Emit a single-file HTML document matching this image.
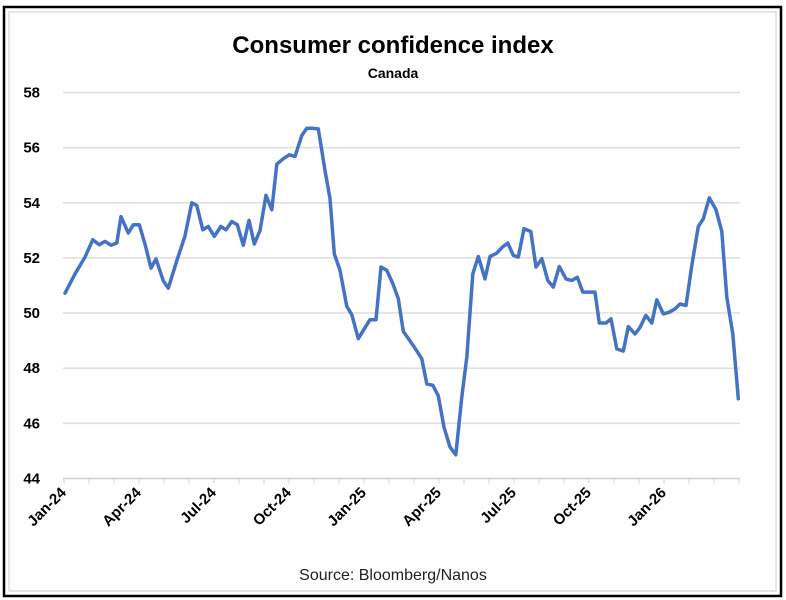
<!DOCTYPE html>
<html><head><meta charset="utf-8"><style>
body{margin:0;background:#fff;}
svg{display:block;font-family:"Liberation Sans",sans-serif;}
</style></head><body>
<svg width="786" height="600">
<rect x="4" y="7" width="777" height="589" fill="#fff" stroke="#000" stroke-width="2.5"/>
<rect x="9" y="12" width="767" height="579" fill="none" stroke="#ccc" stroke-width="1"/>
<text x="393" y="53" text-anchor="middle" font-size="24" font-weight="bold">Consumer confidence index</text>
<text x="393" y="78" text-anchor="middle" font-size="14" font-weight="bold">Canada</text>
<text x="393" y="580" text-anchor="middle" font-size="16" fill="#222">Source: Bloomberg/Nanos</text>
<g id="grid"></g><g id="xaxis"></g><g id="yaxis"></g><g id="series"></g>
</svg>
<script>
const months = [0.04,0.44,0.84,1.15,1.41,1.64,1.88,2.11,2.28,2.57,2.77,3.01,3.24,3.48,3.68,3.97,4.17,4.51,4.84,5.11,5.31,5.55,5.77,6.01,6.27,6.48,6.71,6.93,7.17,7.4,7.61,7.84,8.08,8.31,8.51,8.77,9.01,9.24,9.51,9.71,9.91,10.17,10.44,10.64,10.81,11.04,11.31,11.51,11.77,12.01,12.24,12.48,12.68,12.91,13.15,13.37,13.57,13.81,14.08,14.31,14.51,14.75,14.97,15.2,15.44,15.67,15.91,16.11,16.35,16.57,16.84,17.04,17.31,17.53,17.75,17.97,18.17,18.4,18.67,18.88,19.11,19.35,19.57,19.81,20.08,20.31,20.53,20.75,21.01,21.24,21.41,21.68,21.88,22.11,22.37,22.57,22.84,23.04,23.27,23.51,23.71,23.97,24.21,24.44,24.64,24.88,25.11,25.37,25.57,25.81,26.08,26.31,26.51,26.75,26.97];
const values = [50.72,51.42,52.03,52.66,52.48,52.6,52.46,52.54,53.5,52.9,53.2,53.2,52.5,51.63,51.96,51.17,50.9,51.9,52.8,54.0,53.9,53.02,53.14,52.78,53.14,53.02,53.32,53.2,52.46,53.36,52.5,52.99,54.27,53.75,55.4,55.6,55.74,55.68,56.44,56.7,56.7,56.68,55.17,54.15,52.15,51.55,50.24,49.94,49.07,49.43,49.76,49.76,51.67,51.55,51.07,50.52,49.33,49.03,48.67,48.34,47.43,47.38,47.0,45.86,45.14,44.86,46.95,48.4,51.42,52.05,51.24,52.05,52.17,52.39,52.54,52.09,52.03,53.06,52.96,51.67,51.97,51.18,50.94,51.69,51.24,51.18,51.3,50.76,50.76,50.76,49.64,49.64,49.79,48.7,48.62,49.51,49.24,49.48,49.91,49.64,50.48,49.97,50.03,50.15,50.33,50.27,51.73,53.14,53.42,54.18,53.75,52.96,50.58,49.24,46.89];
const yTicks = [44,46,48,50,52,54,56,58];
const xLabels = ["Jan-24","Apr-24","Jul-24","Oct-24","Jan-25","Apr-25","Jul-25","Oct-25","Jan-26"];
const xLabelMonths = [0,3,6,9,12,15,18,21,24];
const NS="http://www.w3.org/2000/svg";
const X0=64, PX_PER_MONTH=25, PLOT_L=63, PLOT_R=740;
function xs(m){return X0+m*PX_PER_MONTH;}
function ys(v){return 92.5+(58-v)*27.57;}
function mk(tag,attrs,parent){const e=document.createElementNS(NS,tag);for(const k in attrs)e.setAttribute(k,attrs[k]);parent.appendChild(e);return e;}
const grid=document.getElementById('grid'), ya=document.getElementById('yaxis'), xa=document.getElementById('xaxis'), se=document.getElementById('series');
yTicks.forEach(t=>{
  const l=mk('line',{x1:PLOT_L,x2:PLOT_R,y1:ys(t),y2:ys(t),stroke:t===44?'#d0d0d0':'#dedede','stroke-width':1.5},grid);
  
  
  const tx=mk('text',{x:40,y:ys(t)+5,'text-anchor':'end','font-size':15,'font-weight':'bold'},ya);
  tx.textContent=t;
  
  
});
for(let m=0;m<=27;m++){
  const tk=mk('line',{x1:xs(m),x2:xs(m),y1:ys(44),y2:ys(44)+5,stroke:'#d0d0d0','stroke-width':1},xa);
  
  
}
xLabels.forEach((lab,i)=>{
  const x=xs(xLabelMonths[i])+3, y=ys(44)+15;
  const tx=mk('text',{x:x,y:y,'text-anchor':'end','font-size':15,'font-weight':'bold',transform:`rotate(-45 ${x} ${y})`},xa);
  tx.textContent=lab;
  
  
});
const d=values.map((v,i)=>(i?'L':'M')+xs(months[i]).toFixed(1)+','+ys(v).toFixed(1)).join(' ');
const p=mk('path',{d:d,fill:'none',stroke:'#4472c4','stroke-width':3.5,'stroke-linejoin':'round','stroke-linecap':'round'},se);


</script>
</body></html>
